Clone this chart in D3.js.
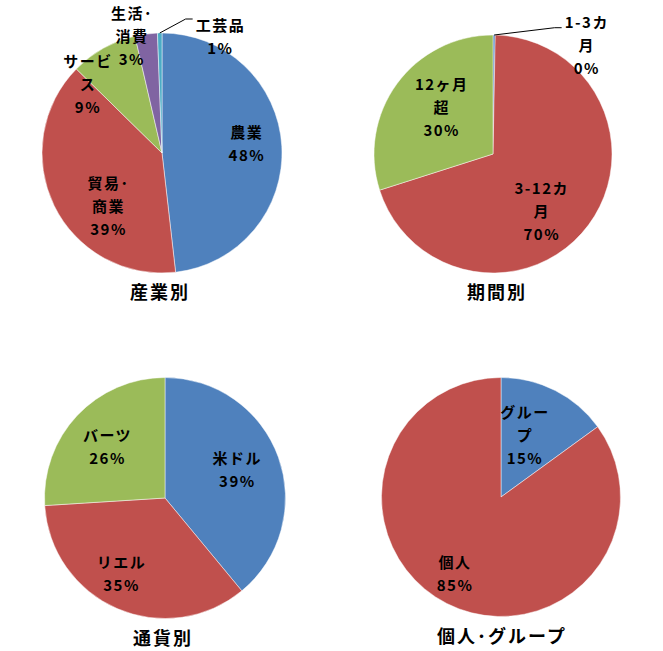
<!DOCTYPE html>
<html>
<head>
<meta charset="utf-8">
<script src="https://cdn.jsdelivr.net/npm/d3@7"></script>
<style>
  body { margin: 0; background: #fff; }
  svg { display: block; }
  .lbl { font-family: "Noto Sans CJK JP", "Noto Sans", sans-serif; font-weight: bold; font-size: 15px; letter-spacing: 1.5px; fill: #000; }
  .ttl { font-family: "Noto Sans CJK JP", "Noto Sans", sans-serif; font-weight: bold; font-size: 18px; letter-spacing: 2px; fill: #000; }
</style>
</head>
<body>
<svg id="chart" width="663" height="651"></svg>
<script>
// values (percent shares)
const industryLabels = ["農業", "貿易･商業", "サービス", "生活･消費", "工芸品"];
const industryValues = [48, 39, 9, 3, 0.6];
const periodLabels = ["1-3カ月", "3-12カ月", "12ヶ月超"];
const periodValues = [0.3, 70, 30];
const currencyLabels = ["米ドル", "リエル", "バーツ"];
const currencyValues = [39, 35, 26];
const groupLabels = ["グループ", "個人"];
const groupValues = [15, 85];
const chartTitles = ["産業別", "期間別", "通貨別", "個人･グループ"];

const palette = ["#4F81BD", "#C0504D", "#9BBB59", "#8064A2", "#4BACC6"];

// layout: pie centre/radius, label nudges from the centroid, which labels sit outside
const charts = [
  { labels: industryLabels, values: industryValues, title: chartTitles[0], cx: 162, cy: 153, r: 120, titleDx: -2,
    nudges: [[1, -4], [22, 17], [-33, 5], [-19, -33], [60, -32]], leader: [0, 0, 0, 0, 1] },
  { labels: periodLabels, values: periodValues, title: chartTitles[1], cx: 493, cy: 154, r: 119, titleDx: 4,
    nudges: [[93, -25], [-18, 8], [16, 3]], leader: [1, 0, 0] },
  { labels: currencyLabels, values: currencyValues, title: chartTitles[2], cx: 165, cy: 498, r: 120.5, titleDx: -2,
    nudges: [[-7, 1], [-10, -1], [4, 7]], leader: [0, 0, 0] },
  { labels: groupLabels, values: groupValues, title: chartTitles[3], cx: 501, cy: 497, r: 119.5, titleDx: 1,
    nudges: [[-14, 13], [-8, 3]], leader: [0, 0] }
];

const svg = d3.select("#chart");
const lineGap = 23;
const wrapWidth = 56;

function wrapLabel(label) {
  let probe = svg.append("text").attr("class", "lbl");
  let lines = [], cur = "";
  Array.from(label).forEach(ch => {
    probe.text(cur + ch);
    if (cur && probe.node().getComputedTextLength() > wrapWidth) {
      lines.push(cur);
      cur = ch;
    } else {
      cur += ch;
    }
  });
  if (cur) lines.push(cur);
  probe.remove();
  return lines;
}

charts.forEach(c => {
  let data = c.labels.map((l, i) => ({ label: l, value: c.values[i], i: i }));
  let total = d3.sum(data, d => d.value);
  let pie = d3.pie().sort(null).value(d => d.value);
  let arc = d3.arc().innerRadius(0).outerRadius(c.r);
  let labelArc = d3.arc().innerRadius(c.r * 0.7).outerRadius(c.r * 0.7);
  let color = d3.scaleOrdinal().domain(d3.range(palette.length)).range(palette);

  let g = svg.append("g").attr("transform", `translate(${c.cx},${c.cy})`);

  g.selectAll("path.slice")
    .data(pie(data))
    .enter().append("path")
    .attr("class", "slice")
    .attr("d", arc)
    .attr("fill", d => color(d.data.i))
    .attr("stroke", "#fff")
    .attr("stroke-width", 0.6)
    .attr("stroke-opacity", 0.8);

  pie(data).forEach(d => {
    let [x, y] = labelArc.centroid(d);
    let nudge = c.nudges[d.data.i];
    x += nudge[0];
    y += nudge[1];
    let lines = wrapLabel(d.data.label);
    lines.push(`${Math.round(d.data.value / total * 100)}%`);

    let t = g.append("text")
      .attr("class", "lbl")
      .attr("text-anchor", "middle");
    lines.forEach((line, k) => {
      t.append("tspan")
        .attr("x", x)
        .attr("y", y + (k - (lines.length - 1) / 2) * lineGap)
        .attr("dy", "0.35em")
        .text(line);
    });

    if (c.leader[d.data.i]) {
      let firstW = t.select("tspan").node().getComputedTextLength();
      let left = x - firstW / 2;
      let mid = (d.startAngle + d.endAngle) / 2;
      let sx = Math.sin(mid) * c.r, sy = -Math.cos(mid) * c.r;
      let ly = y - 18;
      g.append("path")
        .attr("d", `M${sx},${sy}L${left - 10},${ly}L${left - 3},${ly}`)
        .attr("fill", "none")
        .attr("stroke", "#000")
        .attr("stroke-width", 1);
    }
  });

  g.append("text")
    .attr("class", "ttl")
    .attr("text-anchor", "middle")
    .attr("x", c.titleDx)
    .attr("y", c.r + 20)
    .attr("dy", "0.35em")
    .text(c.title);
});
</script>
</body>
</html>
